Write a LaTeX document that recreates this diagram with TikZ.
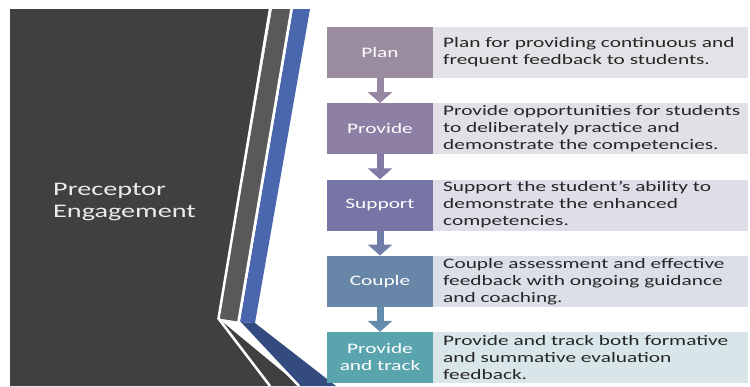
\documentclass[tikz,border=0pt]{standalone}
\usepackage{fontspec}
\setmainfont{Carlito}[FakeStretch=1.47]
\usetikzlibrary{arrows.meta}
\definecolor{bgdark}{RGB}{64,64,64}
\definecolor{stripegray}{RGB}{89,89,89}
\definecolor{stripeblue}{RGB}{74,102,172}
\definecolor{stripenavy}{RGB}{52,75,128}
\definecolor{cPlan}{RGB}{155,140,160}
\definecolor{cProv}{RGB}{142,127,164}
\definecolor{cSupp}{RGB}{119,116,166}
\definecolor{cCoup}{RGB}{104,134,168}
\definecolor{cTrack}{RGB}{90,164,174}
\definecolor{dPlan}{RGB}{228,226,230}
\definecolor{dProv}{RGB}{226,223,231}
\definecolor{dSupp}{RGB}{222,221,232}
\definecolor{dCoup}{RGB}{219,224,232}
\definecolor{dTrack}{RGB}{216,229,233}
\definecolor{aOne}{RGB}{150,135,162}
\definecolor{aTwo}{RGB}{130,121,165}
\definecolor{aThree}{RGB}{112,125,168}
\definecolor{aFour}{RGB}{100,140,172}
\definecolor{txt}{RGB}{38,38,38}
\definecolor{titletxt}{RGB}{235,235,235}
\begin{document}
\begin{tikzpicture}[x=1pt,y=-1pt,
  lbl/.style={minimum width=106pt, minimum height=51pt, inner sep=0pt, text=white,
    font=\fontsize{14.5}{17}\selectfont, align=center},
  desc/.style={minimum height=51pt, text width=295pt, inner xsep=10pt, inner ysep=0pt,
    align=left, anchor=west, text=txt, font=\fontsize{14.5}{17}\selectfont},
  flowarrow/.style={line width=7pt, -{Triangle[width=24pt,length=11pt]}}]
\useasboundingbox (0,0) rectangle (750,386);
\fill[white] (0,0) rectangle (750,386);
% left panel
\fill[bgdark] (10,9) -- (271,9) -- (219,319) -- (300,386) -- (10,386) -- cycle;
\fill[stripegray] (272,9) -- (291,9) -- (238,321.5) -- (219,318.5) -- cycle;
\fill[stripeblue] (293,9) -- (310,9) -- (255,323) -- (240,322) -- cycle;
\fill[stripenavy] (240,322) -- (255,323) -- (336,386) -- (300,386) -- cycle;
\draw[white, line width=2.5pt] (270,9) -- (218.5,318.5) -- (270,386);
\draw[white, line width=2.5pt] (291.5,9) -- (238.5,321.5) -- (299,386);
\node[anchor=west, inner sep=0pt, align=left, text=titletxt,
  font=\fontsize{19.2}{22.5}\selectfont] (title) at (53,202) {Preceptor\\Engagement};
% steps
\node[lbl, fill=cPlan] (plan) at (380,52.5) {Plan};
\node[desc, fill=dPlan] (plandesc) at (433,52.5) {Plan for providing continuous and\\frequent feedback to students.};
\node[lbl, fill=cProv] (prov) at (380,128.75) {Provide};
\node[desc, fill=dProv] (provdesc) at (433,128.75) {\mbox{Provide opportunities for students}\\to deliberately practice and\\demonstrate the competencies.};
\node[lbl, fill=cSupp] (supp) at (380,205) {Support};
\node[desc, fill=dSupp] (suppdesc) at (433,205) {Support the student’s ability to\\demonstrate the enhanced\\competencies.};
\node[lbl, fill=cCoup] (coup) at (380,281.25) {Couple};
\node[desc, fill=dCoup] (coupdesc) at (433,281.25) {Couple assessment and effective\\feedback with ongoing guidance\\and coaching.};
\node[lbl, fill=cTrack] (track) at (380,357.5) {Provide\\and track};
\node[desc, fill=dTrack] (trackdesc) at (433,357.5) {Provide and track both formative\\and summative evaluation\\feedback.};
% arrows
\draw[flowarrow, aOne] (plan.south) -- (prov.north);
\draw[flowarrow, aTwo] (prov.south) -- (supp.north);
\draw[flowarrow, aThree] (supp.south) -- (coup.north);
\draw[flowarrow, aFour] (coup.south) -- (track.north);
\end{tikzpicture}
\end{document}
